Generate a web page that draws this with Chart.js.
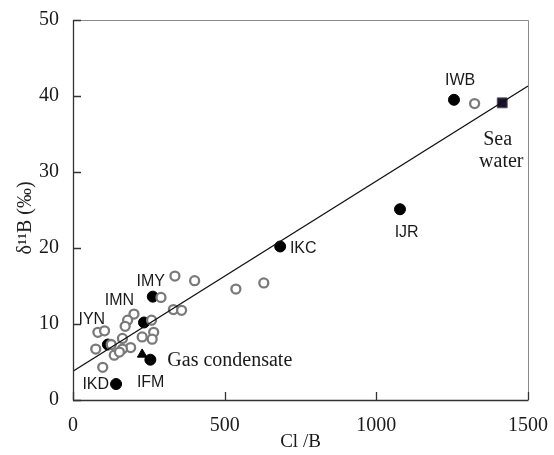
<!DOCTYPE html>
<html lang="en">
<head>
  <meta charset="UTF-8" />
  <title>Cl/B vs d11B</title>
  <script src="https://cdn.jsdelivr.net/npm/chart.js"></script>
  <style>
    html, body { margin: 0; padding: 0; background: #fff; }
    #wrap { width: 554px; height: 455px; }
  </style>
</head>
<body>
  <div id="wrap"><canvas id="chart" width="554" height="455"></canvas></div>

  <script>
    // open circles (samples)
    const openX = [1324, 290, 336, 401, 331, 358, 201, 180, 172, 259, 82, 104, 266, 261, 228, 163, 75, 190, 163, 136, 153, 98, 126, 537, 629];
    const openY = [39.0, 13.5, 16.3, 15.7, 11.9, 11.8, 11.3, 10.5, 9.7, 10.5, 8.9, 9.1, 8.9, 8.0, 8.3, 8.1, 6.7, 6.9, 6.7, 5.9, 6.3, 4.3, 7.3, 14.6, 15.4];

    // named wells (filled circles)
    const wellNames = ["IWB", "IJR", "IKC", "IMY", "IMN", "IYN", "IKD", "IFM"];
    const wellX = [1256, 1078, 683, 263, 234, 115, 142, 255];
    const wellY = [39.5, 25.1, 20.2, 13.6, 10.2, 7.3, 2.1, 5.3];

    const gasX = [228];
    const gasY = [6.0];

    const seaX = [1415];
    const seaY = [39.1];

    const fitX = [0, 1500];
    const fitY = [3.8, 41.3];

    const xTicks = [0, 500, 1000, 1500];
    const yTicks = [0, 10, 20, 30, 40, 50];

    // text labels: [text, x, y, align, font]
    const labels = [
      ["IWB", 1276, 42.0, "center", "sans"],
      ["IJR", 1100, 22.0, "center", "sans"],
      ["IKC", 715, 19.9, "left", "sans"],
      ["IMY", 256, 15.6, "center", "sans"],
      ["IMN", 153, 13.1, "center", "sans"],
      ["IYN", 62, 10.6, "center", "sans"],
      ["IKD", 75, 2.0, "center", "sans"],
      ["IFM", 256, 2.3, "center", "sans"],
      ["Gas condensate", 311, 5.1, "left", "serif"],
      ["Sea", 1400, 34.2, "center", "serif"],
      ["water", 1412, 31.3, "center", "serif"]
    ];

    const pts = (xs, ys) => xs.map((x, i) => ({ x: x, y: ys[i] }));

    const frame = {
      id: "frame",
      afterDraw(chart) {
        const { ctx, chartArea: a, scales } = chart;
        ctx.save();
        // top and right borders (light)
        ctx.strokeStyle = "#8a8a8a";
        ctx.lineWidth = 1;
        ctx.beginPath();
        ctx.moveTo(a.left, a.top + 0.5);
        ctx.lineTo(a.right + 0.5, a.top + 0.5);
        ctx.lineTo(a.right + 0.5, a.bottom);
        ctx.stroke();
        // left and bottom axes
        ctx.strokeStyle = "#333";
        ctx.lineWidth = 1.3;
        ctx.beginPath();
        ctx.moveTo(a.left + 0.5, a.top);
        ctx.lineTo(a.left + 0.5, a.bottom + 0.5);
        ctx.lineTo(a.right + 0.5, a.bottom + 0.5);
        ctx.stroke();
        // inward ticks
        ctx.beginPath();
        yTicks.forEach(v => {
          const y = Math.round(scales.y.getPixelForValue(v)) + 0.5;
          ctx.moveTo(a.left, y);
          ctx.lineTo(a.left + 8, y);
        });
        xTicks.forEach(v => {
          const x = Math.round(scales.x.getPixelForValue(v)) + 0.5;
          ctx.moveTo(x, a.bottom);
          ctx.lineTo(x, a.bottom - 8);
        });
        ctx.stroke();

        // y axis title
        ctx.fillStyle = "#222";
        ctx.font = "20px 'Liberation Serif'";
        ctx.textAlign = "center";
        ctx.textBaseline = "middle";
        ctx.translate(26, 218);
        ctx.rotate(-Math.PI / 2);
        ctx.fillText("δ¹¹B (‰)", 0, 0);
        ctx.restore();

        // point labels
        ctx.save();
        ctx.fillStyle = "#1a1a1a";
        ctx.textBaseline = "middle";
        labels.forEach(([t, x, y, al, f]) => {
          ctx.font = f === "sans" ? "16px 'Liberation Sans'" : "20px 'Liberation Serif'";
          ctx.textAlign = al;
          ctx.fillText(t, scales.x.getPixelForValue(x), scales.y.getPixelForValue(y));
        });
        ctx.restore();
      }
    };

    new Chart(document.getElementById("chart"), {
      type: "scatter",
      data: {
        datasets: [
          {
            type: "line",
            data: pts(fitX, fitY),
            borderColor: "#111",
            borderWidth: 1.2,
            pointRadius: 0,
            fill: false
          },
          {
            data: pts(openX, openY),
            pointStyle: "circle",
            pointRadius: 4.5,
            borderWidth: 2.3,
            borderColor: "#7a7a7a",
            backgroundColor: "#fff"
          },
          {
            data: pts(gasX, gasY),
            pointStyle: "triangle",
            pointRadius: 5.5,
            borderWidth: 1,
            borderColor: "#000",
            backgroundColor: "#000"
          },
          {
            data: pts(wellX, wellY),
            pointStyle: "circle",
            pointRadius: 5.5,
            borderWidth: 1,
            borderColor: "#000",
            backgroundColor: "#000"
          },
          {
            data: pts(seaX, seaY),
            pointStyle: "rect",
            pointRadius: 7,
            borderWidth: 1,
            borderColor: "#555",
            backgroundColor: "#1b1030"
          }
        ]
      },
      options: {
        responsive: false,
        animation: false,
        layout: { padding: { top: 20, right: 18, left: 0, bottom: 0 } },
        plugins: { legend: { display: false }, tooltip: { enabled: false } },
        scales: {
          x: {
            type: "linear",
            min: 0,
            max: 1500,
            afterFit: s => { s.height = 55; },
            afterBuildTicks: s => { s.ticks = xTicks.map(v => ({ value: v })); },
            grid: { display: false },
            border: { display: false },
            ticks: {
              padding: 6,
              color: "#1a1a1a",
              callback: v => String(v),
              font: { family: "'Liberation Serif'", size: 20 }
            },
            title: {
              display: true,
              text: "Cl /B",
              color: "#1a1a1a",
              font: { family: "'Liberation Serif'", size: 19 },
              padding: { top: 0, bottom: 2 }
            }
          },
          y: {
            type: "linear",
            min: 0,
            max: 50,
            afterFit: s => { s.width = 73; },
            afterBuildTicks: s => { s.ticks = yTicks.map(v => ({ value: v })); },
            grid: { display: false },
            border: { display: false },
            ticks: {
              padding: 6,
              color: "#1a1a1a",
              callback: v => String(v),
              font: { family: "'Liberation Serif'", size: 20 }
            }
          }
        }
      },
      plugins: [frame]
    });
  </script>
</body>
</html>
